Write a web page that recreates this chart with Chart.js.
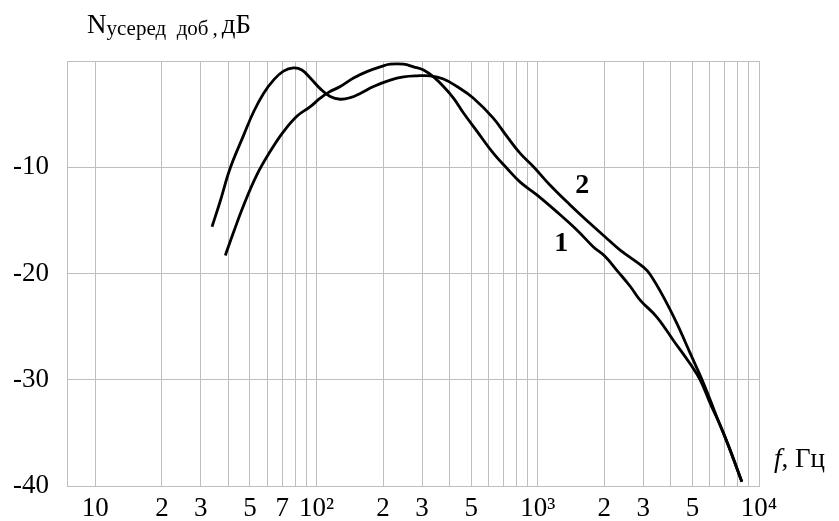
<!DOCTYPE html>
<html>
<head>
<meta charset="utf-8">
<script src="https://cdn.jsdelivr.net/npm/chart.js@4"></script>
<style>
html, body { margin: 0; padding: 0; background: #fff; }
#wrap { width: 839px; height: 521px; }
</style>
</head>
<body>
<div id="wrap"><canvas id="chart" width="839" height="521"></canvas></div>
<script>
// DATA
// curve 1 (peak near 250 Hz, lower on the right)
const freq1 = [38.7, 42.2, 46.8, 53.8, 61.8, 70.9, 81.5, 93.7, 103.9, 113.3, 128, 147, 168.9, 194, 215.3, 247.3, 274.4, 304.5, 337.9, 374.9, 416, 461.7, 530.6, 630.7, 725.3, 832.8, 990.6, 1220, 1502, 1785, 2017, 2278, 2615, 2902, 3453, 4104, 4884, 5418, 6012, 6904, 8363];
const level1 = [-18.3, -16.1, -13.6, -10.7, -8.5, -6.65, -5.2, -4.3, -3.5, -2.95, -2.4, -1.6, -1.0, -0.55, -0.3, -0.3, -0.55, -0.85, -1.5, -2.4, -3.5, -4.9, -6.6, -8.7, -10.1, -11.4, -12.6, -14.2, -15.9, -17.5, -18.4, -19.7, -21.2, -22.5, -24.1, -26.3, -28.5, -30.0, -32.2, -35.0, -39.6];
// curve 2 (peak near 80 Hz, upper on the right)
const freq2 = [33.7, 36.7, 40.7, 46.8, 51.9, 57.6, 63.9, 70.9, 78.7, 85.9, 93.7, 103.9, 115.3, 128, 142, 157.6, 181, 215.3, 247.3, 284.3, 326.5, 374.9, 430.9, 512.2, 630.7, 725.3, 832.8, 956.3, 1138, 1401, 1725, 2052, 2357, 3004, 3221, 3698, 4253, 4884, 5608, 6447, 7403, 8363];
const level2 = [-15.6, -13.2, -10.1, -7.0, -4.8, -3.05, -1.8, -0.95, -0.65, -0.85, -1.6, -2.6, -3.35, -3.6, -3.45, -3.05, -2.4, -1.8, -1.5, -1.4, -1.4, -1.7, -2.4, -3.5, -5.4, -7.1, -8.7, -9.95, -11.7, -13.55, -15.3, -16.7, -17.8, -19.4, -20.1, -22.2, -24.7, -27.5, -30.3, -33.5, -36.6, -39.6];

// log grid lines and their labels
const gridFreqs = [10, 20, 30, 40, 50, 60, 70, 80, 90, 100, 200, 300, 400, 500, 600, 700, 800, 900, 1000, 2000, 3000, 4000, 5000, 6000, 7000, 8000, 9000, 10000];
const labelFreqs = [10, 20, 30, 50, 70, 100, 200, 300, 500, 1000, 2000, 3000, 5000, 10000];
const labelTexts = ['10', '2', '3', '5', '7', '10\u00B2', '2', '3', '5', '10\u00B3', '2', '3', '5', '10\u2074'];
const yMin = -40, yMax = 0, yStep = 10;

// curve number labels, in data coordinates
const curveNames = ['1', '2'];
const curveNameFreqs = [1276, 1587];
const curveNameLevels = [-17.2, -11.7];

const SERIF = '"Liberation Serif", "Times New Roman", serif';
const GRID = '#bdbdbd';

function toPoints(xs, ys) {
    return xs.map((x, i) => ({ x: x, y: ys[i] }));
}

// TEXT PLUGIN (axis titles + curve numbers)
const textPlugin = {
    id: 'textPlugin',
    afterDraw(chart) {
        const ctx = chart.ctx;
        const xs = chart.scales.x, ys = chart.scales.y;
        ctx.save();
        ctx.fillStyle = '#000';
        ctx.textBaseline = 'alphabetic';
        ctx.textAlign = 'left';

        // y axis title: N усеред доб , дБ
        let tx = 87;
        ctx.font = '27px ' + SERIF;
        ctx.fillText('N', tx, 33);
        tx += ctx.measureText('N').width;
        ctx.font = '21px ' + SERIF;
        ctx.fillText('усеред  доб', tx, 35);
        tx += ctx.measureText('усеред  доб').width + 4;
        ctx.fillText(',', tx, 35);
        tx += ctx.measureText(',').width + 4;
        ctx.font = '27px ' + SERIF;
        ctx.fillText('дБ', tx, 33);

        // x axis title: f, Гц
        let fx = 774;
        ctx.font = 'italic 27px ' + SERIF;
        ctx.fillText('f', fx, 467);
        fx += ctx.measureText('f').width;
        ctx.font = '27px ' + SERIF;
        ctx.fillText(', Гц', fx, 467);

        // curve numbers
        ctx.font = 'bold 28px ' + SERIF;
        ctx.textAlign = 'center';
        ctx.textBaseline = 'middle';
        curveNames.forEach((n, i) => {
            ctx.fillText(n, xs.getPixelForValue(curveNameFreqs[i]), ys.getPixelForValue(curveNameLevels[i]));
        });
        ctx.restore();
    }
};

// CHART
const ctx = document.getElementById('chart').getContext('2d');
new Chart(ctx, {
    type: 'line',
    data: {
        datasets: [
            { label: '1', data: toPoints(freq1, level1) },
            { label: '2', data: toPoints(freq2, level2) }
        ]
    },
    options: {
        responsive: false,
        animation: false,
        parsing: true,
        elements: {
            line: { borderColor: '#000', borderWidth: 2.8, tension: 0.4, fill: false },
            point: { radius: 0 }
        },
        layout: { padding: { top: 61, right: 80, left: 0, bottom: 0 } },
        plugins: {
            legend: { display: false },
            tooltip: { enabled: false }
        },
        scales: {
            x: {
                type: 'logarithmic',
                min: 7.45,
                max: 10000,
                afterBuildTicks: s => { s.ticks = gridFreqs.map(v => ({ value: v })); },
                afterFit: s => { s.height = 35; },
                grid: { color: GRID, lineWidth: 1, drawTicks: false },
                border: { color: GRID, width: 1 },
                ticks: {
                    autoSkip: false,
                    maxRotation: 0,
                    padding: 7,
                    color: '#000',
                    font: { family: SERIF, size: 27 },
                    callback: v => {
                        const i = labelFreqs.indexOf(v);
                        return i >= 0 ? labelTexts[i] : '';
                    }
                }
            },
            y: {
                min: yMin,
                max: yMax,
                afterFit: s => { s.width = 67; },
                grid: { color: GRID, lineWidth: 1, drawTicks: false },
                border: { color: GRID, width: 1 },
                ticks: {
                    stepSize: yStep,
                    padding: 18,
                    color: '#000',
                    font: { family: SERIF, size: 27 },
                    callback: v => (v === 0 ? '' : String(v))
                }
            }
        }
    },
    plugins: [textPlugin]
});
</script>
</body>
</html>
